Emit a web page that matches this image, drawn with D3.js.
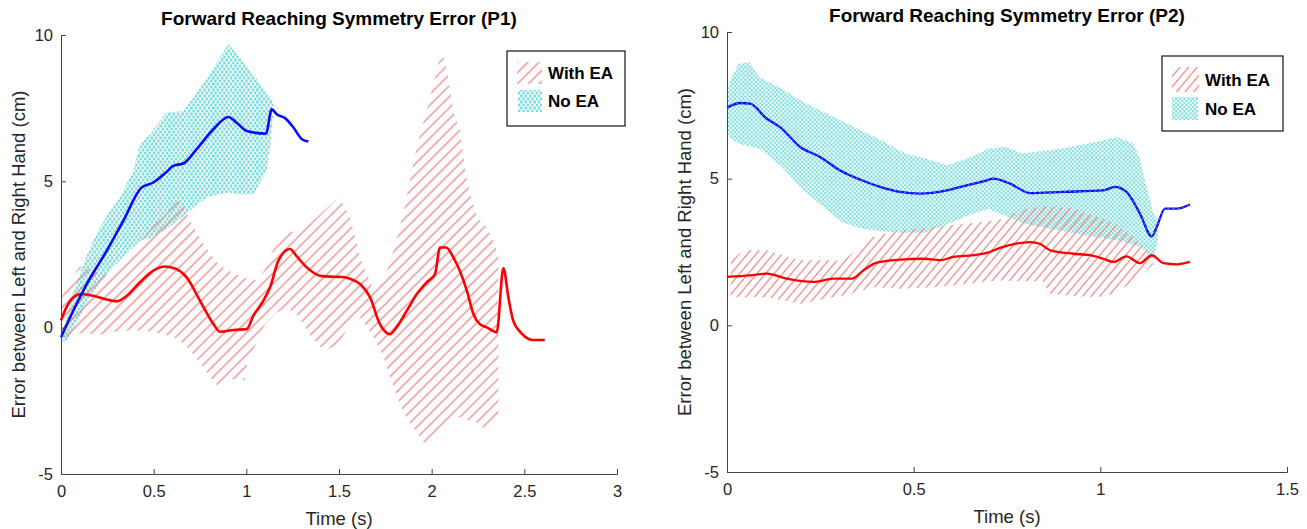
<!DOCTYPE html>
<html>
<head>
<meta charset="utf-8">
<script src="https://cdn.jsdelivr.net/npm/d3@7"></script>
<style>
  body { margin: 0; background: #fff; }
  text { font-family: "Liberation Sans", Arial, Helvetica, sans-serif; }
</style>
</head>
<body>
<script>
// ---- P1 data ----
var p1XTicks = [0, 0.5, 1, 1.5, 2, 2.5, 3];
var yTicks = [-5, 0, 5, 10];

var p1NoEaLineT = [0, 0.066, 0.139, 0.247, 0.336, 0.435, 0.498, 0.564, 0.606, 0.66, 0.732, 0.822, 0.903, 0.948, 1.002, 1.106, 1.137, 1.164, 1.209, 1.254, 1.3, 1.335];
var p1NoEaLine  = [-0.33, 0.58, 1.49, 2.63, 3.65, 4.79, 4.96, 5.29, 5.53, 5.61, 6.1, 6.78, 7.2, 7.0, 6.72, 6.63, 7.46, 7.29, 7.16, 6.84, 6.44, 6.36];

var p1NoEaBandT = [0, 0.03, 0.066, 0.1, 0.12, 0.157, 0.2, 0.25, 0.318, 0.39, 0.426, 0.48, 0.57, 0.66, 0.714, 0.786, 0.858, 0.903, 0.966, 1.038, 1.11, 1.128, 1.146];
var p1NoEaHigh  = [-0.2, 0.3, 1.2, 1.8, 2.17, 2.74, 3.3, 3.85, 4.45, 5.36, 6.27, 6.6, 7.35, 7.4, 7.86, 8.54, 9.22, 9.68, 9.22, 8.66, 8.03, 7.9, 7.75];
var p1NoEaLow   = [-0.5, -0.44, -0.05, 0.35, 0.6, 1.05, 1.4, 1.85, 2.3, 2.75, 2.97, 3.05, 3.37, 3.8, 4.1, 4.45, 4.56, 4.62, 4.55, 4.56, 5.36, 6.15, 7.4];

var p1WithLineT = [0, 0.03, 0.066, 0.11, 0.174, 0.24, 0.3, 0.355, 0.426, 0.498, 0.561, 0.624, 0.678, 0.75, 0.822, 0.858, 0.93, 1.002, 1.038, 1.092, 1.128, 1.173, 1.236, 1.27, 1.326, 1.4, 1.47, 1.52, 1.56, 1.614, 1.668, 1.72, 1.775, 1.81, 1.866, 1.92, 1.973, 2.018, 2.045, 2.078, 2.117, 2.19, 2.225, 2.26, 2.297, 2.351, 2.387, 2.414, 2.44, 2.486, 2.55, 2.61];
var p1WithLine  = [0.25, 0.7, 1.03, 1.15, 1.09, 0.97, 0.9, 1.09, 1.55, 1.95, 2.09, 2.0, 1.72, 0.92, 0.13, -0.14, -0.08, -0.05, 0.41, 0.92, 1.38, 2.29, 2.69, 2.45, 2.06, 1.77, 1.74, 1.73, 1.67, 1.49, 1.03, 0.13, -0.22, 0.01, 0.58, 1.15, 1.55, 1.83, 2.74, 2.74, 2.4, 1.26, 0.47, 0.12, 0.01, -0.16, 2.04, 1.03, 0.24, -0.2, -0.42, -0.42];

var p1WithBandT = [0, 0.05, 0.1, 0.15, 0.2, 0.28, 0.35, 0.42, 0.5, 0.57, 0.63, 0.66, 0.7, 0.76, 0.82, 0.86, 0.92, 0.99, 1.01, 1.06, 1.1, 1.16, 1.22, 1.28, 1.35, 1.42, 1.5, 1.56, 1.614, 1.686, 1.74, 1.793, 1.847, 1.92, 1.973, 2.02, 2.054, 2.085, 2.117, 2.153, 2.19, 2.243, 2.297, 2.342, 2.36];
var p1WithHigh  = [1.0, 1.6, 2.1, 2.0, 1.85, 1.8, 2.3, 2.9, 3.5, 3.9, 4.35, 4.2, 3.6, 2.95, 2.4, 2.1, 1.9, 1.7, 1.7, 1.6, 2.0, 2.9, 3.25, 3.3, 3.6, 4.0, 4.45, 3.76, 2.4, 1.3, 1.6, 2.6, 3.9, 6.2, 7.4, 8.6, 9.5, 8.7, 7.4, 6.7, 5.0, 3.8, 3.42, 2.86, 2.4];
var p1WithLow   = [-0.35, -0.3, -0.2, -0.2, -0.25, -0.15, -0.1, -0.1, -0.15, -0.25, -0.4, -0.55, -0.8, -1.3, -1.8, -2.1, -1.75, -1.8, -1.0, -0.5, 0.1, 0.5, 0.7, 0.4, -0.3, -0.8, -0.56, 0.14, 0.35, -0.3, -1.0, -2.0, -2.9, -3.6, -4.05, -3.8, -3.55, -3.3, -3.1, -3.06, -3.15, -3.23, -3.52, -3.3, -3.17];

// ---- P2 data ----
var p2XTicks = [0, 0.5, 1, 1.5];

var p2NoEaLineT = [0, 0.035, 0.062, 0.106, 0.142, 0.196, 0.249, 0.303, 0.356, 0.41, 0.463, 0.517, 0.589, 0.642, 0.696, 0.713, 0.758, 0.812, 0.9, 1.008, 1.039, 1.07, 1.106, 1.138, 1.151, 1.173, 1.205, 1.24];
var p2NoEaLine  = [7.42, 7.58, 7.56, 7.05, 6.76, 6.08, 5.74, 5.28, 4.97, 4.72, 4.55, 4.49, 4.6, 4.77, 4.94, 5.0, 4.83, 4.51, 4.55, 4.6, 4.72, 4.55, 3.81, 3.03, 3.35, 3.98, 3.98, 4.12];

var p2NoEaBandT = [0, 0.01, 0.031, 0.06, 0.087, 0.143, 0.2, 0.254, 0.31, 0.366, 0.42, 0.477, 0.533, 0.589, 0.644, 0.7, 0.745, 0.79, 0.867, 0.923, 0.99, 1.044, 1.088, 1.106, 1.115, 1.133, 1.142, 1.155];
var p2NoEaHigh  = [7.9, 8.4, 8.91, 8.97, 8.45, 8.1, 7.64, 7.3, 6.95, 6.6, 6.26, 5.86, 5.69, 5.46, 5.69, 6.03, 6.09, 5.86, 5.98, 6.09, 6.26, 6.42, 6.2, 5.7, 5.17, 4.3, 3.8, 3.6];
var p2NoEaLow   = [6.6, 6.38, 6.2, 6.1, 6.03, 5.46, 4.66, 4.08, 3.5, 3.28, 3.2, 3.16, 3.16, 3.45, 3.74, 3.97, 3.74, 3.5, 3.28, 3.16, 3.0, 2.9, 2.75, 2.67, 2.6, 2.3, 2.25, 2.9];

var p2WithLineT = [0, 0.062, 0.106, 0.16, 0.231, 0.285, 0.334, 0.366, 0.401, 0.463, 0.526, 0.571, 0.606, 0.66, 0.696, 0.731, 0.812, 0.838, 0.865, 0.928, 0.972, 1.008, 1.035, 1.07, 1.106, 1.138, 1.169, 1.205, 1.24];
var p2WithLine  = [1.65, 1.7, 1.76, 1.59, 1.48, 1.59, 1.59, 1.88, 2.14, 2.24, 2.27, 2.22, 2.33, 2.39, 2.47, 2.64, 2.84, 2.78, 2.56, 2.44, 2.39, 2.27, 2.16, 2.35, 2.12, 2.39, 2.12, 2.08, 2.16];

var p2WithBandT = [0.01, 0.044, 0.106, 0.196, 0.285, 0.31, 0.35, 0.392, 0.463, 0.552, 0.642, 0.731, 0.79, 0.845, 0.865, 0.923, 0.99, 1.035, 1.08, 1.115, 1.135, 1.142];
var p2WithHigh  = [2.2, 2.56, 2.56, 2.22, 2.22, 2.22, 2.6, 3.01, 3.24, 3.35, 3.47, 3.6, 3.95, 4.05, 4.05, 4.02, 3.7, 3.5, 3.1, 2.67, 2.4, 2.33];
var p2WithLow   = [0.96, 0.96, 0.96, 0.74, 0.96, 1.0, 1.15, 1.3, 1.25, 1.3, 1.42, 1.53, 1.5, 1.5, 1.08, 1.0, 0.96, 1.08, 1.42, 1.76, 2.0, 2.1];

var legendLabels = ["With EA", "No EA"];

/**
 * Settings
 */
var FONT = '"Liberation Sans", Arial, Helvetica, sans-serif';
var axisColor = "#444";
var textColor = "#262626";
var cyan = "#6cdada";
var hatchColor = "#ec8686";

var svg = d3.select("body").append("svg")
  .attr("width", 1307)
  .attr("height", 529);

var defs = svg.append("defs");

// diagonal hatch "/" patterns for With EA
function hatch(id, gap, angle) {
  var p = defs.append("pattern")
    .attr("id", id)
    .attr("patternUnits", "userSpaceOnUse")
    .attr("width", gap).attr("height", gap)
    .attr("patternTransform", "rotate(" + angle + ")");
  p.append("line")
    .attr("x1", gap / 2).attr("y1", -1)
    .attr("x2", gap / 2).attr("y2", gap + 1)
    .attr("stroke", hatchColor)
    .attr("stroke-width", 1.3);
}
hatch("hatch1", 7.8, 45);
hatch("hatch2", 6.6, 40);

// cyan mesh patterns for No EA
function mesh(id, w, h, rx, ry) {
  var p = defs.append("pattern")
    .attr("id", id)
    .attr("patternUnits", "userSpaceOnUse")
    .attr("width", w).attr("height", h);
  p.append("rect").attr("width", w).attr("height", h).attr("fill", cyan);
  [[0, 0], [w, 0], [0, h], [w, h], [w / 2, h / 2]].forEach(function (c) {
    p.append("ellipse")
      .attr("cx", c[0]).attr("cy", c[1])
      .attr("rx", rx).attr("ry", ry)
      .attr("fill", "#fff");
  });
}
mesh("mesh1", 4.4, 6, 1.15, 2.0);
mesh("mesh2", 4.2, 4.2, 1.25, 1.25);

function zip(t, a, b) {
  return t.map(function (d, i) { return {t: d, a: a[i], b: b ? b[i] : null}; });
}

function panel(cfg) {
  var x = d3.scaleLinear().domain([0, cfg.xMax]).range([cfg.left, cfg.right]);
  var y = d3.scaleLinear().domain([-5, 10]).range([cfg.bottom, cfg.top]);
  var g = svg.append("g");

  var area = d3.area()
    .x(function (d) { return x(d.t); })
    .y0(function (d) { return y(d.a); })
    .y1(function (d) { return y(d.b); });
  var line = d3.line()
    .x(function (d) { return x(d.t); })
    .y(function (d) { return y(d.a); })
    .curve(d3.curveMonotoneX);

  // bands
  g.append("path")
    .datum(zip(cfg.noBandT, cfg.noLow, cfg.noHigh))
    .attr("d", area)
    .attr("fill", "url(#" + cfg.mesh + ")");
  g.append("path")
    .datum(zip(cfg.withBandT, cfg.withLow, cfg.withHigh))
    .attr("d", area)
    .attr("fill", "url(#" + cfg.hatch + ")");

  // mean lines
  g.append("path")
    .datum(zip(cfg.withLineT, cfg.withLine))
    .attr("d", line)
    .attr("fill", "none")
    .attr("stroke", "#ff0000")
    .attr("stroke-width", cfg.lw)
    .attr("stroke-linejoin", "round");
  g.append("path")
    .datum(zip(cfg.noLineT, cfg.noLine))
    .attr("d", line)
    .attr("fill", "none")
    .attr("stroke", "#0a0af5")
    .attr("stroke-width", cfg.lw)
    .attr("stroke-linejoin", "round");
  if (cfg.dotted) {
    g.append("path")
      .datum(zip(cfg.noLineT, cfg.noLine))
      .attr("d", line)
      .attr("fill", "none")
      .attr("stroke", "#6f86ff")
      .attr("stroke-width", 0.9)
      .attr("stroke-dasharray", "2 3");
  }

  // axes (ticks inward, box off)
  var xAxis = g.append("g")
    .attr("transform", "translate(0," + cfg.bottom + ")")
    .call(d3.axisBottom(x).tickValues(cfg.xTicks)
      .tickFormat(function (d) { return String(d); })
      .tickSizeInner(-5).tickSizeOuter(-5).tickPadding(11));
  var yAxis = g.append("g")
    .attr("transform", "translate(" + cfg.left + ",0)")
    .call(d3.axisLeft(y).tickValues(yTicks)
      .tickFormat(function (d) { return String(d); })
      .tickSizeInner(-5).tickSizeOuter(-5).tickPadding(8));
  [xAxis, yAxis].forEach(function (a) {
    a.attr("font-family", FONT).attr("font-size", 16.5);
    a.selectAll("path, line").attr("stroke", axisColor).attr("stroke-width", 1);
    a.selectAll("text").attr("fill", textColor);
  });

  // title and labels
  g.append("text")
    .attr("x", (cfg.left + cfg.right) / 2)
    .attr("y", cfg.top - 10.5)
    .attr("text-anchor", "middle")
    .attr("font-size", 19)
    .attr("font-weight", "bold")
    .attr("fill", "#000")
    .text(cfg.title);
  g.append("text")
    .attr("x", (cfg.left + cfg.right) / 2)
    .attr("y", cfg.bottom + 51)
    .attr("text-anchor", "middle")
    .attr("font-size", 18.5)
    .attr("fill", textColor)
    .text("Time (s)");
  g.append("text")
    .attr("transform", "translate(" + cfg.ylabX + "," + (cfg.top + cfg.bottom) / 2 + ") rotate(-90)")
    .attr("dy", "0.35em")
    .attr("text-anchor", "middle")
    .attr("font-size", 18.5)
    .attr("fill", textColor)
    .text("Error between Left and Right Hand (cm)");

  // legend
  var L = cfg.legend;
  var lg = g.append("g");
  lg.append("rect")
    .attr("x", L.x).attr("y", L.y).attr("width", L.w).attr("height", L.h)
    .attr("fill", "#fff").attr("stroke", "#111").attr("stroke-width", 1.2);
  var fills = ["url(#" + cfg.hatch + ")", "url(#" + cfg.mesh + ")"];
  legendLabels.forEach(function (lab, i) {
    var s = L.sw[i];
    lg.append("rect")
      .attr("x", s[0]).attr("y", s[1]).attr("width", s[2]).attr("height", s[3])
      .attr("fill", fills[i]);
    lg.append("text")
      .attr("x", L.tx)
      .attr("y", s[1] + s[3] / 2)
      .attr("dy", "0.36em")
      .attr("font-size", 17)
      .attr("font-weight", "bold")
      .attr("fill", "#000")
      .text(lab);
  });
}

panel({
  title: "Forward Reaching Symmetry Error (P1)",
  left: 61, right: 617, top: 35, bottom: 474, xMax: 3, xTicks: p1XTicks,
  ylabX: 19, lw: 2.6, hatch: "hatch1", mesh: "mesh1", dotted: false,
  noLineT: p1NoEaLineT, noLine: p1NoEaLine,
  noBandT: p1NoEaBandT, noLow: p1NoEaLow, noHigh: p1NoEaHigh,
  withLineT: p1WithLineT, withLine: p1WithLine,
  withBandT: p1WithBandT, withLow: p1WithLow, withHigh: p1WithHigh,
  legend: {x: 507, y: 51, w: 118, h: 75, tx: 548,
    sw: [[517, 62, 25, 22], [518, 90, 24, 22]]}
});

panel({
  title: "Forward Reaching Symmetry Error (P2)",
  left: 727, right: 1287, top: 32, bottom: 472, xMax: 1.5, xTicks: p2XTicks,
  ylabX: 685, lw: 2.3, hatch: "hatch2", mesh: "mesh2", dotted: true,
  noLineT: p2NoEaLineT, noLine: p2NoEaLine,
  noBandT: p2NoEaBandT, noLow: p2NoEaLow, noHigh: p2NoEaHigh,
  withLineT: p2WithLineT, withLine: p2WithLine,
  withBandT: p2WithBandT, withLow: p2WithLow, withHigh: p2WithHigh,
  legend: {x: 1162, y: 56, w: 121, h: 75, tx: 1205,
    sw: [[1172, 67, 27, 25], [1172, 97, 26, 23]]}
});
</script>
</body>
</html>
